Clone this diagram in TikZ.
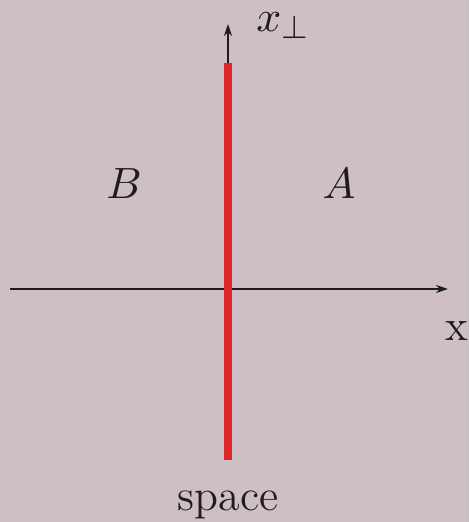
\documentclass[tikz,border=0pt]{standalone}
\usetikzlibrary{arrows.meta}
\definecolor{bgc}{RGB}{205,191,197}
\definecolor{redline}{RGB}{222,38,40}
\definecolor{inkc}{RGB}{30,28,30}
\begin{document}
\begin{tikzpicture}[x=1pt,y=-1pt,
  axis/.style={draw=inkc,line width=2.3pt,-{Stealth[length=12pt,width=8pt]}},
  lbl/.style={text=inkc,inner sep=0pt,font=\fontsize{11}{13}\selectfont,scale=4,transform shape},
  wall/.style={draw=redline,line width=8pt}]
\fill[bgc] (0,0) rectangle (469,522);
\useasboundingbox (0,0) rectangle (469,522);
\coordinate (o) at (228,289);
\coordinate (xl) at (10,289);
\coordinate (xr) at (448,289);
\coordinate (yt) at (228,24);
\coordinate (rt) at (228,63);
\coordinate (rb) at (228,460);
\draw[axis] (xl) -- (xr);
\draw[axis] (o) -- (yt);
\draw[wall] (rt) -- (rb);
\node[lbl] (xperp) at (283,26) {$x_\perp$};
\node[lbl] (xlab) at (457,331) {x};
\node[lbl] (B) at (124,184) {$B$};
\node[lbl] (A) at (339,184) {$A$};
\node[lbl,anchor=base] (space) at (228,510) {space};
\end{tikzpicture}
\end{document}
